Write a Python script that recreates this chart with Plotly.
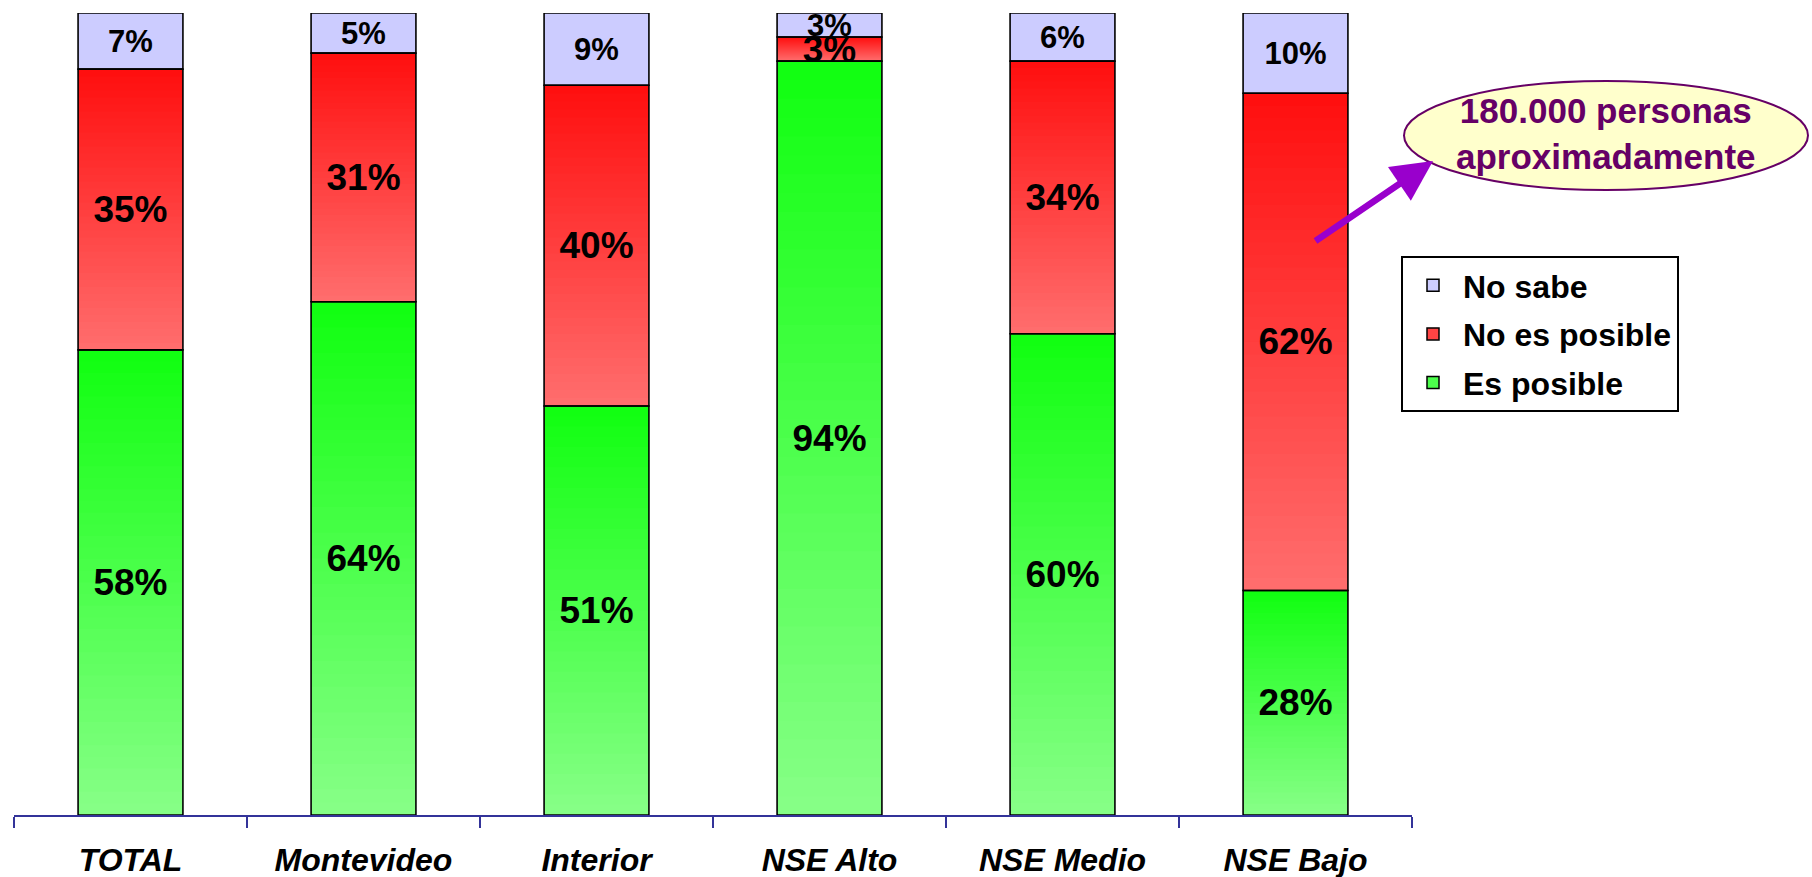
import plotly.graph_objects as go

# Survey answers by segment (percent of respondents)
categories = ["TOTAL", "Montevideo", "Interior", "NSE Alto", "NSE Medio", "NSE Bajo"]
es_posible = [58, 64, 51, 94, 60, 28]
no_es_posible = [35, 31, 40, 3, 34, 62]
no_sabe = [7, 5, 9, 3, 6, 10]

series_names = ["Es posible", "No es posible", "No sabe"]
callout_text = "180.000 personas<br>aproximadamente"

# Page geometry (pixels) used to place shapes and annotations
W, H = 1812, 877
PL, PR, PT, PB = 14, 1412, 13, 815

FONT = "Liberation Sans, Arial, sans-serif"
BAR_W = 0.45
N_SLICES = 40


def px_x(x):
    return (x - PL) / (PR - PL)


def px_y(y):
    return (PB - y) / (PB - PT)


def lerp(c0, c1, t):
    return "rgb({},{},{})".format(*[round(a + (b - a) * t) for a, b in zip(c0, c1)])


# gradient end colours: (bottom, top) of each segment; None = flat fill
gradients = {
    "Es posible": ((136, 255, 136), (16, 255, 16)),
    "No es posible": ((255, 110, 110), (255, 14, 14)),
    "No sabe": None,
}
flat = {"No sabe": "#CCCCFF"}
swatch = {"Es posible": "#4CFF4C", "No es posible": "#FF4444", "No sabe": "#CCCCFF"}

values = {"Es posible": es_posible, "No es posible": no_es_posible, "No sabe": no_sabe}
bases = {}
cum = [0] * len(categories)
for name in series_names:
    bases[name] = list(cum)
    cum = [c + v for c, v in zip(cum, values[name])]

fig = go.Figure()

# gradient fills: each layer starts a step higher and runs to the segment top,
# so later (brighter) layers cover the earlier ones without seams
for name in series_names:
    vals, base = values[name], bases[name]
    if gradients[name] is None:
        fig.add_trace(go.Bar(
            x=categories, y=vals, base=base, width=BAR_W,
            marker=dict(color=flat[name], line=dict(width=0)),
            showlegend=False, hoverinfo="skip",
        ))
        continue
    c_bot, c_top = gradients[name]
    for k in range(N_SLICES):
        fig.add_trace(go.Bar(
            x=categories,
            y=[v * (N_SLICES - k) / N_SLICES for v in vals],
            base=[b + v * k / N_SLICES for b, v in zip(base, vals)],
            width=BAR_W,
            marker=dict(color=lerp(c_bot, c_top, (k + 0.5) / N_SLICES), line=dict(width=0)),
            showlegend=False, hoverinfo="skip",
        ))

# segment outlines with value labels
label_size = {"Es posible": 37, "No es posible": 37, "No sabe": 31}
for name in series_names:
    vals = values[name]
    fig.add_trace(go.Bar(
        x=categories, y=vals, base=bases[name], width=BAR_W, name=name,
        marker=dict(color="rgba(0,0,0,0)", line=dict(color="black", width=1.6)),
        text=[f"{v}%" for v in vals],
        textposition="inside", insidetextanchor="middle", textangle=0,
        constraintext="none", cliponaxis=False,
        textfont=dict(family=FONT, size=label_size[name], color="black", weight="bold"),
        showlegend=False,
        hovertemplate="%{x}: %{y}%<extra>" + name + "</extra>",
    ))

# legend entries
for rank, name in zip([3, 2, 1], series_names):
    fig.add_trace(go.Bar(
        x=[None], y=[None], name=name, legendrank=rank, legendgroup=name,
        marker=dict(color=swatch[name], line=dict(color="black", width=1.5)),
    ))

fig.update_layout(
    width=W, height=H,
    margin=dict(l=PL, r=W - PR, t=PT, b=H - PB, autoexpand=False),
    barmode="overlay",
    plot_bgcolor="white", paper_bgcolor="white",
    font=dict(family=FONT, color="black"),
    xaxis=dict(
        type="category", showgrid=False, showline=True, linecolor="#333399", linewidth=2,
        ticks="outside", tickson="boundaries", ticklen=11, tickcolor="#333399", tickwidth=2,
        tickfont=dict(family=FONT, size=32, weight="bold", style="italic", color="black"),
        ticklabelstandoff=16, automargin=False,
    ),
    yaxis=dict(range=[0, 100], visible=False, showgrid=False, zeroline=False),
    legend=dict(
        x=px_x(1401), y=px_y(256), xanchor="left", yanchor="top",
        bordercolor="black", borderwidth=2, bgcolor="white",
        font=dict(family=FONT, size=32, weight="bold", color="black"),
        tracegroupgap=4, itemwidth=50, entrywidth=290,
    ),
    showlegend=True,
)

# callout ellipse, its text and the pointing arrow
fig.add_shape(
    type="circle", xref="paper", yref="paper",
    x0=px_x(1404), x1=px_x(1808), y0=px_y(190), y1=px_y(81),
    fillcolor="#FFFFCC", line=dict(color="#660066", width=2), layer="above",
)
fig.add_annotation(
    xref="paper", yref="paper", x=px_x(1606), y=px_y(133),
    xanchor="center", yanchor="middle", showarrow=False,
    text=callout_text,
    font=dict(family=FONT, size=35, weight="bold", color="#660066"),
)
fig.add_annotation(
    xref="paper", yref="paper", x=px_x(1433), y=px_y(161),
    ax=1314 - 1433, ay=242 - 161, text="", showarrow=True,
    arrowcolor="#9900CC", arrowwidth=6.5, arrowhead=2, arrowsize=1.25, standoff=0,
)

fig.write_html("out.html")
